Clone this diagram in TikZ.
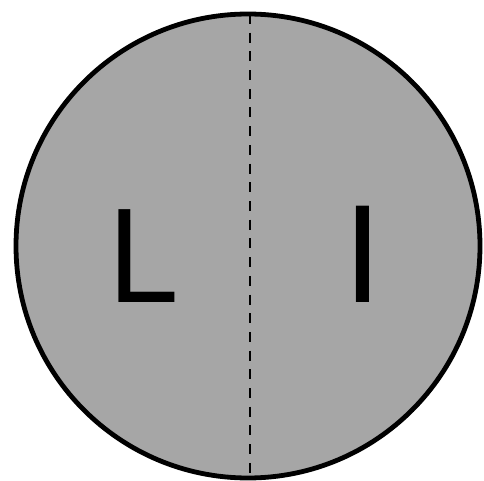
\documentclass[tikz,border=0pt]{standalone}
\usepackage{fontspec}
\setmainfont{Liberation Sans}
\definecolor{discgray}{RGB}{166,166,166}
\tikzset{
  disc/.style={draw=black, fill=discgray, line width=4.8pt},
  divider/.style={draw=black, line width=2.4pt, dash pattern=on 10pt off 8.7pt},
  letter/.style={inner sep=0pt, anchor=base west}
}
\begin{document}
\begin{tikzpicture}[x=1pt,y=1pt]
\useasboundingbox (0,0) rectangle (484,-481);
\node[disc, circle, minimum size=464pt, inner sep=0pt] (c) at (248,-246) {};
\coordinate (top) at (250,-14);
\coordinate (bot) at (250,-478);
\draw[divider] (top) -- (bot);
\node[letter] (L) at (108.4,-302.3) {\scalebox{0.94}[1]{\fontsize{135}{135}\selectfont L}};
\node[letter] (I) at (342.9,-302.3) {\fontsize{140}{140}\selectfont I};
\end{tikzpicture}
\end{document}
